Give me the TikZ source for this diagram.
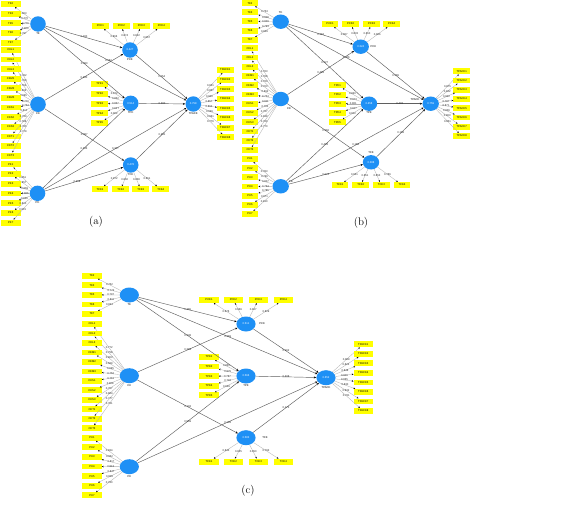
\documentclass[tikz,border=0pt]{standalone}
\usepackage{fontspec}
\newfontfamily\smf{Liberation Sans}
\usetikzlibrary{arrows.meta,shapes.geometric,positioning}
\definecolor{latblue}{RGB}{30,144,245}
\definecolor{indy}{RGB}{255,255,0}
\definecolor{pathc}{RGB}{95,95,95}
\definecolor{loadc}{RGB}{175,175,175}
\tikzset{
  smalltext/.style={font={\smf\fontsize{2.7}{3}\selectfont}},
  ind/.style={rectangle, fill=indy, inner sep=0pt, minimum height=5.8pt, text=black, smalltext},
  indAL/.style={ind, minimum width=20pt},
  indA/.style={ind, minimum width=16.5pt},
  indB/.style={ind, minimum width=16.5pt},
  indC/.style={ind, minimum width=19.2pt},
  latbase/.style={ellipse, fill=latblue, inner sep=0pt, text=white, smalltext},
  latA/.style={latbase, minimum width=15.6pt, minimum height=15.4pt},
  latB/.style={latbase, minimum width=16.4pt, minimum height=14.4pt},
  latC/.style={latbase, minimum width=19.2pt, minimum height=15pt},
  ld/.style={draw=loadc, line width=0.3pt, -{Stealth[length=1.8pt,width=1.6pt,color=black]}},
  pth/.style={draw=pathc, line width=0.45pt, -{Stealth[length=2.4pt,width=2pt,color=black]}},
  lv/.style={smalltext, inner sep=0.3pt, text=black!85},
  lname/.style={smalltext, inner sep=0.3pt, text=black},
  captext/.style={font=\fontsize{11}{13}\selectfont, inner sep=0pt}
}
\begin{document}
\begin{tikzpicture}[x=1pt,y=-1pt]
\fill[white] (0,0) rectangle (567,508);
\useasboundingbox (0,0) rectangle (567,508);

%%%%%%%%%%%%%%%%%%%% (a)
\node[latA] (aTK) at (38,24) {};
\node[lname, below=0.4pt of aTK] (aTKn) {TK};
\node[latA] (aCK) at (38,104.3) {};
\node[lname, below=0.4pt of aCK] (aCKn) {CK};
\node[latA] (aPK) at (37.5,193.3) {};
\node[lname, below=0.4pt of aPK] (aPKn) {PK};
\node[latA] (aPCK) at (130,50) {0.427};
\node[lname, below=0.4pt of aPCK] (aPCKn) {PCK};
\node[latA] (aTPK) at (130.7,103.3) {0.514};
\node[lname, below=0.4pt of aTPK] (aTPKn) {TPK};
\node[latA] (aTCK) at (130.7,165) {0.478};
\node[lname, below=0.4pt of aTCK] (aTCKn) {TCK};
\node[latA] (aTPACK) at (193.3,104) {0.758};
\node[lname, below=0.4pt of aTPACK] (aTPACKn) {TPACK};

\foreach \nm/\yy/\vv in {TK2/4/0.803, TK3/13.7/0.770, TK5/23.3/0.776, TK6/33/0.803, TK7/42.7/0.797}
 {\node[indAL] (a\nm) at (10.7,\yy) {\nm}; \draw[ld] (aTK) -- node[lv]{\vv} (a\nm);}
\foreach \nm/\vv [count=\i from 0] in {CKL1/0.762, CKL2/0.759, CKL3/0.752, CKM1/0.666, CKM2/0.695, CKM3/0.770, CKS1/0.754, CKS2/0.811, CKS3/0.759, CKT1/0.768, CKT2/0.756, CKT3/0.779}
 {\node[indAL] (a\nm) at (10.7,{50+9.6*\i}) {\nm}; \draw[ld] (aCK) -- node[lv]{\vv} (a\nm);}
\foreach \nm/\vv [count=\i from 0] in {PK1/0.851, PK2/0.857, PK3/0.869, PK4/0.866, PK5/0.826, PK6/0.810, PK7/0.815}
 {\node[indAL] (a\nm) at (10.7,{164.3+9.73*\i}) {\nm}; \draw[ld] (aPK) -- node[lv]{\vv} (a\nm);}
\foreach \nm/\xx/\vv in {PCK1/100.3/0.866, PCK2/121.3/0.874, PCK3/141.3/0.822, PCK4/161.3/0.867}
 {\node[indA] (a\nm) at (\xx,26) {\nm}; \draw[ld] (aPCK) -- node[lv]{\vv} (a\nm);}
\foreach \nm/\yy/\vv in {TPK1/84/0.872, TPK2/94/0.852, TPK3/103.7/0.857, TPK4/113.3/0.827, TPK5/123/0.802}
 {\node[indA] (a\nm) at (99.7,\yy) {\nm}; \draw[ld] (aTPK) -- node[lv]{\vv} (a\nm);}
\foreach \nm/\xx/\vv in {TCK1/100/0.872, TCK2/120.7/0.860, TCK3/140.7/0.838, TCK4/160.7/0.851}
 {\node[indA] (a\nm) at (\xx,189.3) {\nm}; \draw[ld] (aTCK) -- node[lv]{\vv} (a\nm);}
\foreach \nm/\vv [count=\i from 0] in {TPACK1/0.821, TPACK2/0.857, TPACK3/0.840, TPACK4/0.857, TPACK5/0.862, TPACK6/0.849, TPACK7/0.861, TPACK8/0.776}
 {\node[indA] (a\nm) at (225.3,{70+9.61*\i}) {\nm}; \draw[ld] (aTPACK) -- node[lv]{\vv} (a\nm);}

\draw[pth] (aTK) -- node[lv]{0.180} (aPCK);
\draw[pth] (aTK) -- node[lv]{0.380} (aTPK);
\draw[pth] (aTK) -- node[lv,pos=0.45]{0.062} (aTPACK);
\draw[pth] (aCK) -- node[lv]{0.480} (aPCK);
\draw[pth] (aCK) -- node[lv]{0.387} (aTCK);
\draw[pth] (aPK) -- node[lv]{0.483} (aTPK);
\draw[pth] (aPK) -- node[lv,pos=0.41]{0.259} (aTCK);
\draw[pth] (aPK) -- node[lv]{0.307} (aTPACK);
\draw[pth] (aPCK) -- node[lv]{0.254} (aTPACK);
\draw[pth] (aTPK) -- node[lv]{0.380} (aTPACK);
\draw[pth] (aTCK) -- node[lv]{0.291} (aTPACK);
\node[captext] (capa) at (96,222) {(a)};

%%%%%%%%%%%%%%%%%%%% (b)
\node[latB] (bTK) at (280.7,21.7) {};
\node[lname, above=0.6pt of bTK] (bTKn) {TK};
\node[latB] (bCK) at (280.7,99) {};
\node[lname] (bCKn) at (289,109) {CK};
\node[latB] (bPK) at (280.7,186.3) {};
\node[lname] (bPKn) at (291,182) {PK};
\node[latB] (bPCK) at (360.7,46.7) {0.324};
\node[lname, right=1pt of bPCK] (bPCKn) {PCK};
\node[latB] (bTPK) at (369,103.7) {0.458};
\node[lname, below=0.4pt of bTPK] (bTPKn) {TPK};
\node[latB] (bTCK) at (371,162.3) {0.388};
\node[lname, above=0.6pt of bTCK] (bTCKn) {TCK};
\node[latB] (bTPACK) at (430.7,103.7) {0.759};
\node[lname] (bTPACKn) at (415,100) {TPACK};

\foreach \nm/\yy/\vv in {TK2/3.3/0.753, TK3/12.3/0.808, TK5/21.3/0.809, TK6/30.7/0.793, TK7/40/0.829}
 {\node[indB] (b\nm) at (250,\yy) {\nm}; \draw[ld] (bTK) -- node[lv]{\vv} (b\nm);}
\foreach \nm/\vv [count=\i from 0] in {CKL1/0.763, CKL2/0.768, CKL3/0.760, CKM1/0.700, CKM2/0.692, CKM3/0.754, CKS1/0.811, CKS2/0.763, CKS3/0.757, CKT1/0.818, CKT2/0.769, CKT3/0.770}
 {\node[indB] (b\nm) at (250,{48.3+9.25*\i}) {\nm}; \draw[ld] (bCK) -- node[lv]{\vv} (b\nm);}
\foreach \nm/\vv [count=\i from 0] in {PK1/0.783, PK2/0.796, PK3/0.807, PK4/0.754, PK5/0.785, PK6/0.871, PK7/0.810}
 {\node[indB] (b\nm) at (250,{159+9.17*\i}) {\nm}; \draw[ld] (bPK) -- node[lv]{\vv} (b\nm);}
\foreach \nm/\xx/\vv in {PCK1/330/0.867, PCK2/350.7/0.833, PCK3/371.7/0.810, PCK4/391.7/0.866}
 {\node[indB] (b\nm) at (\xx,24) {\nm}; \draw[ld] (bPCK) -- node[lv]{\vv} (b\nm);}
\foreach \nm/\yy/\vv in {TPK1/85.3/0.840, TPK2/94.7/0.873, TPK3/103.7/0.861, TPK4/113/0.817, TPK5/122.3/0.812}
 {\node[indB] (b\nm) at (337.5,\yy) {\nm}; \draw[ld] (bTPK) -- node[lv]{\vv} (b\nm);}
\foreach \nm/\xx/\vv in {TCK1/340/0.831, TCK2/360.7/0.851, TCK3/381.3/0.853, TCK4/402/0.786}
 {\node[indB] (b\nm) at (\xx,185) {\nm}; \draw[ld] (bTCK) -- node[lv]{\vv} (b\nm);}
\foreach \nm/\vv [count=\i from 0] in {TPACK1/0.875, TPACK2/0.822, TPACK3/0.822, TPACK4/0.787, TPACK5/0.871, TPACK6/0.836, TPACK7/0.803, TPACK8/0.851}
 {\node[indB] (b\nm) at (461.7,{71.3+9.24*\i}) {\nm}; \draw[ld] (bTPACK) -- node[lv]{\vv} (b\nm);}

\draw[pth] (bTK) -- node[lv]{0.363} (bPCK);
\draw[pth] (bTK) -- node[lv]{0.327} (bTPK);
\draw[pth] (bTK) -- node[lv,pos=0.43]{0.066} (bTPACK);
\draw[pth] (bCK) -- node[lv]{0.483} (bPCK);
\draw[pth] (bCK) -- node[lv]{0.366} (bTCK);
\draw[pth] (bPK) -- node[lv]{0.483} (bTPK);
\draw[pth] (bPK) -- node[lv]{0.224} (bTCK);
\draw[pth] (bPK) -- node[lv]{0.158} (bTPACK);
\draw[pth] (bPCK) -- node[lv]{0.165} (bTPACK);
\draw[pth] (bTPK) -- node[lv]{0.403} (bTPACK);
\draw[pth] (bTCK) -- node[lv]{0.168} (bTPACK);
\node[captext] (capb) at (361,223) {(b)};

%%%%%%%%%%%%%%%%%%%% (c)
\node[latC] (cTK) at (129.3,295) {};
\node[lname, below=0.4pt of cTK] (cTKn) {TK};
\node[latC] (cCK) at (129.3,375.7) {};
\node[lname, below=0.4pt of cCK] (cCKn) {CK};
\node[latC] (cPK) at (129.3,466.7) {};
\node[lname, below=0.4pt of cPK] (cPKn) {PK};
\node[latC] (cPCK) at (246,324) {0.511};
\node[lname, right=3pt of cPCK] (cPCKn) {PCK};
\node[latC] (cTPK) at (246,376) {0.566};
\node[lname, below=0.4pt of cTPK] (cTPKn) {TPK};
\node[latC] (cTCK) at (246,437.7) {0.583};
\node[lname, right=6pt of cTCK] (cTCKn) {TCK};
\node[latC] (cTPACK) at (326,377.7) {0.652};
\node[lname, below=0.4pt of cTPACK] (cTPACKn) {TPACK};

\foreach \nm/\vv [count=\i from 0] in {TK2/0.752, TK3/0.772, TK5/0.797, TK6/0.811, TK7/0.824}
 {\node[indC] (c\nm) at (92,{275.7+9.58*\i}) {\nm}; \draw[ld] (cTK) -- node[lv]{\vv} (c\nm);}
\foreach \nm/\vv [count=\i from 0] in {CKL1/0.772, CKL2/0.758, CKL3/0.803, CKM1/0.689, CKM2/0.695, CKM3/0.752, CKS1/0.761, CKS2/0.808, CKS3/0.757, CKT1/0.864, CKT2/0.777, CKT3/0.751}
 {\node[indC] (c\nm) at (92,{324+9.48*\i}) {\nm}; \draw[ld] (cCK) -- node[lv]{\vv} (c\nm);}
\foreach \nm/\vv [count=\i from 0] in {PK1/0.834, PK2/0.852, PK3/0.817, PK4/0.813, PK5/0.847, PK6/0.809, PK7/0.780}
 {\node[indC] (c\nm) at (92,{437.7+9.6*\i}) {\nm}; \draw[ld] (cPK) -- node[lv]{\vv} (c\nm);}
\foreach \nm/\xx/\vv in {PCK1/209/0.876, PCK2/233.3/0.869, PCK3/258.3/0.827, PCK4/283.3/0.829}
 {\node[indC] (c\nm) at (\xx,300) {\nm}; \draw[ld] (cPCK) -- node[lv]{\vv} (c\nm);}
\foreach \nm/\vv [count=\i from 0] in {TPK1/0.855, TPK2/0.875, TPK3/0.787, TPK4/0.793, TPK5/0.829}
 {\node[indC] (c\nm) at (209,{357+9.58*\i}) {\nm}; \draw[ld] (cTPK) -- node[lv]{\vv} (c\nm);}
\foreach \nm/\xx/\vv in {TCK1/209/0.843, TCK2/233.3/0.825, TCK3/258.3/0.850, TCK4/283.3/0.793}
 {\node[indC] (c\nm) at (\xx,461.7) {\nm}; \draw[ld] (cTCK) -- node[lv]{\vv} (c\nm);}
\foreach \nm/\vv [count=\i from 0] in {TPACK1/0.869, TPACK2/0.822, TPACK3/0.848, TPACK4/0.809, TPACK5/0.865, TPACK6/0.830, TPACK7/0.832, TPACK8/0.761}
 {\node[indC] (c\nm) at (363.3,{344.3+9.53*\i}) {\nm}; \draw[ld] (cTPACK) -- node[lv]{\vv} (c\nm);}

\draw[pth] (cTK) -- node[lv]{0.365} (cPCK);
\draw[pth] (cTK) -- node[lv]{0.338} (cTPK);
\draw[pth] (cTK) -- node[lv]{0.369} (cTPACK);
\draw[pth] (cCK) -- node[lv]{0.389} (cPCK);
\draw[pth] (cCK) -- node[lv]{0.193} (cTCK);
\draw[pth] (cPK) -- node[lv]{0.569} (cTPK);
\draw[pth] (cPK) -- node[lv]{0.183} (cTPACK);
\draw[pth] (cPCK) -- node[lv]{0.162} (cTPACK);
\draw[pth] (cTPK) -- node[lv]{0.408} (cTPACK);
\draw[pth] (cTCK) -- node[lv]{0.173} (cTPACK);
\node[captext] (capc) at (248,491) {(c)};
\end{tikzpicture}
\end{document}
